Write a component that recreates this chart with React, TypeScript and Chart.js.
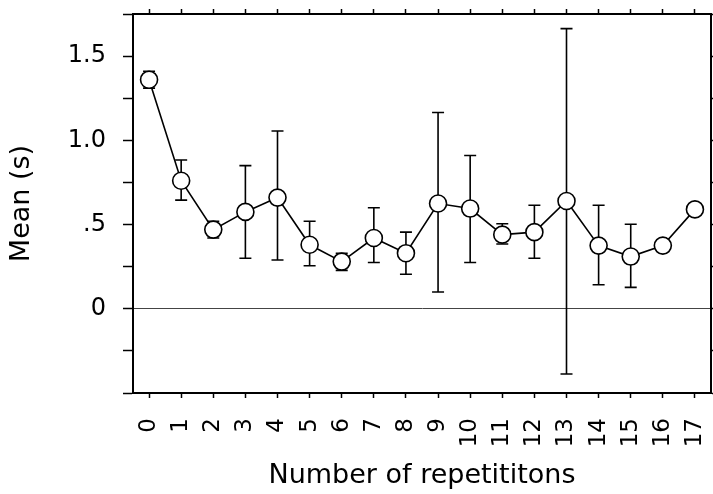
import React, { useEffect, useRef } from 'react';
import { Chart, registerables } from 'chart.js';

Chart.register(...registerables);

const categories = ['0', '1', '2', '3', '4', '5', '6', '7', '8', '9', '10', '11', '12', '13', '14', '15', '16', '17'];
const meanValues = [1.36, 0.76, 0.47, 0.575, 0.66, 0.38, 0.28, 0.42, 0.33, 0.625, 0.595, 0.44, 0.455, 0.64, 0.375, 0.31, 0.375, 0.59];
const lowerValues = [1.31, 0.645, 0.42, 0.3, 0.29, 0.255, 0.228, 0.275, 0.205, 0.1, 0.275, 0.385, 0.3, -0.387, 0.143, 0.127, 0.35, 0.57];
const upperValues = [1.41, 0.883, 0.52, 0.85, 1.055, 0.52, 0.33, 0.6, 0.455, 1.165, 0.91, 0.505, 0.615, 1.663, 0.615, 0.502, 0.4, 0.61];
const yTickValues = [-0.5, -0.25, 0, 0.25, 0.5, 0.75, 1, 1.25, 1.5, 1.75];
const yTickLabels = ['', '', '0', '', '.5', '', '1.0', '', '1.5', ''];
const xTitle = 'Number of repetititons';
const yTitle = 'Mean (s)';

const FONT = "'DejaVu Sans', 'Liberation Sans', Arial, sans-serif";

const errorBarPlugin = {
  id: 'errorBars',
  beforeDatasetsDraw(chart: any) {
    const ctx = chart.ctx;
    const xs = chart.scales.x;
    const ys = chart.scales.y;
    ctx.save();
    ctx.strokeStyle = '#000';
    ctx.lineWidth = 1.6;
    const cap = 6;
    for (let i = 0; i < meanValues.length; i++) {
      const x = xs.getPixelForValue(i);
      const yLo = ys.getPixelForValue(lowerValues[i]);
      const yHi = ys.getPixelForValue(upperValues[i]);
      ctx.beginPath();
      ctx.moveTo(x, yLo);
      ctx.lineTo(x, yHi);
      ctx.moveTo(x - cap, yLo);
      ctx.lineTo(x + cap, yLo);
      ctx.moveTo(x - cap, yHi);
      ctx.lineTo(x + cap, yHi);
      ctx.stroke();
    }
    ctx.restore();
  },
};

const fixSize = (prop: 'width' | 'height', size: number) => (scale: any) => {
  scale[prop] = size;
  scale.paddingLeft = 0;
  scale.paddingRight = 0;
  scale.paddingTop = 0;
  scale.paddingBottom = 0;
};

export default function App() {
  const canvasRef = useRef<HTMLCanvasElement | null>(null);

  useEffect(() => {
    if (!canvasRef.current) return;
    const setTicks = (scale: any) => {
      scale.ticks = yTickValues.map((v) => ({ value: v }));
    };
    const chart = new Chart(canvasRef.current, {
      type: 'line',
      data: {
        labels: categories,
        datasets: [
          {
            data: meanValues,
            borderColor: '#000',
            borderWidth: 1.6,
            pointRadius: 8.5,
            pointBackgroundColor: '#fff',
            pointBorderColor: '#000',
            pointBorderWidth: 1.6,
            tension: 0,
            fill: false,
          },
        ],
      },
      options: {
        animation: false,
        responsive: true,
        maintainAspectRatio: false,
        layout: { padding: 0, autoPadding: false },
        plugins: {
          legend: { display: false },
          tooltip: { enabled: false },
        },
        scales: {
          x: {
            type: 'category',
            position: 'bottom',
            offset: true,
            grid: {
              drawOnChartArea: false,
              offset: false,
              tickLength: 5,
              tickColor: '#000',
              tickWidth: 1.5,
            },
            border: { display: true, color: '#000', width: 2 },
            ticks: {
              color: '#000',
              font: { family: FONT, size: 23 },
              minRotation: 90,
              maxRotation: 90,
              autoSkip: false,
              padding: 20,
            },
            title: {
              display: true,
              text: xTitle,
              color: '#000',
              font: { family: FONT, size: 27 },
              padding: { top: 0, bottom: 2 },
            },
            afterFit: fixSize('height', 101),
          },
          x2: {
            type: 'category',
            position: 'top',
            offset: true,
            grid: {
              drawOnChartArea: false,
              offset: false,
              tickLength: 5,
              tickColor: '#000',
              tickWidth: 1.5,
            },
            border: { display: true, color: '#000', width: 2 },
            ticks: { display: false },
            afterFit: fixSize('height', 14),
          },
          y: {
            type: 'linear',
            position: 'left',
            min: -0.5,
            max: 1.75,
            afterBuildTicks: setTicks,
            grid: {
              color: (c: any) => (c.tick && c.tick.value === 0 ? '#444' : 'rgba(0,0,0,0)'),
              lineWidth: 1,
              tickLength: 10,
              tickColor: '#000',
              tickWidth: 1.5,
            },
            border: { display: true, color: '#000', width: 2 },
            ticks: {
              color: '#000',
              font: { family: FONT, size: 24 },
              padding: 17,
              callback: (value: any) => yTickLabels[yTickValues.indexOf(Number(value))] ?? '',
            },
            title: {
              display: true,
              text: yTitle,
              color: '#000',
              font: { family: FONT, size: 27 },
              padding: { top: 6, bottom: 0 },
            },
            afterFit: fixSize('width', 133),
          },
          y2: {
            type: 'linear',
            position: 'right',
            min: -0.5,
            max: 1.75,
            afterBuildTicks: setTicks,
            grid: {
              drawOnChartArea: false,
              tickLength: 5,
              tickColor: '#000',
              tickWidth: 1.5,
            },
            border: { display: true, color: '#000', width: 2 },
            ticks: { display: false },
            afterFit: fixSize('width', 2),
          },
        },
      },
      plugins: [errorBarPlugin],
    } as any);
    return () => chart.destroy();
  }, []);

  return (
    <div style={{ position: 'fixed', left: 0, top: 0, width: 713, height: 494, background: '#fff' }}>
      <canvas ref={canvasRef} />
    </div>
  );
}
